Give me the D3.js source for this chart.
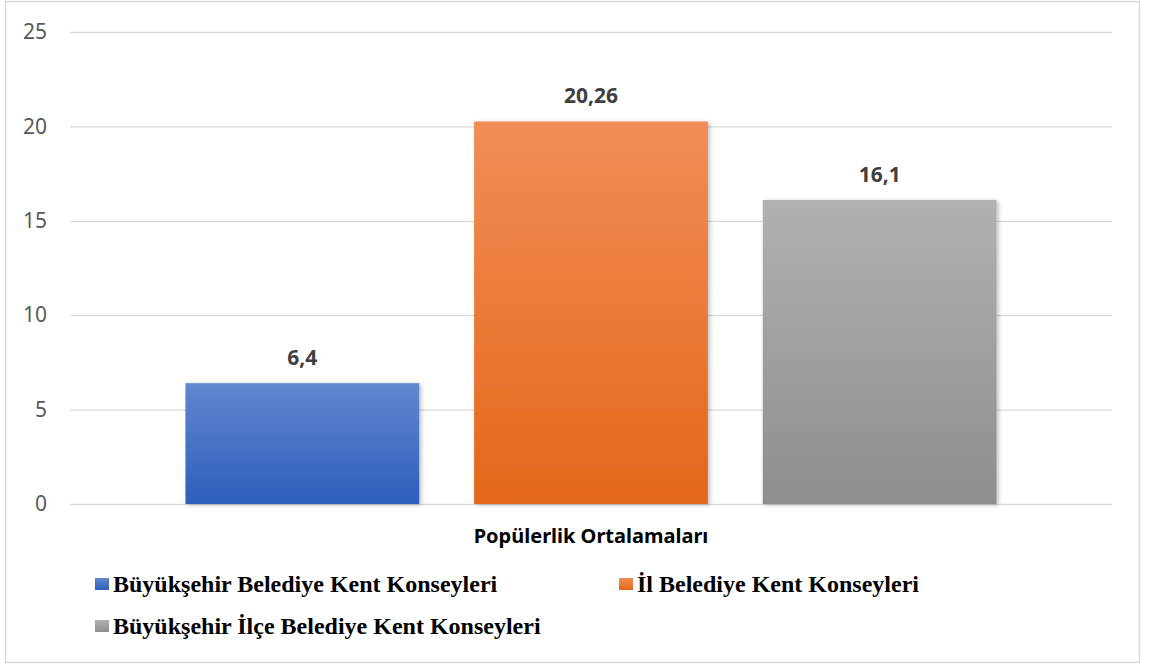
<!DOCTYPE html>
<html>
<head>
<meta charset="utf-8">
<script src="https://cdn.jsdelivr.net/npm/d3@7"></script>
<style>
  body { margin: 0; background: #fff; }
</style>
</head>
<body>
<div id="chart"></div>
<script>
// Chart data
var category = 'Popülerlik Ortalamaları';
var series = ['Büyükşehir Belediye Kent Konseyleri', 'İl Belediye Kent Konseyleri', 'Büyükşehir İlçe Belediye Kent Konseyleri'];
var values = [6.4, 20.26, 16.1];
var valueLabels = ['6,4', '20,26', '16,1'];
var yTicks = [0, 5, 10, 15, 20, 25];

// Gradient colors (top, bottom) per series
var colorTop = ['#6187d0', '#f18d57', '#b1b1b1'];
var colorBottom = ['#2d5ebb', '#e4671a', '#8e8e8e'];

var fullWidth = 1150;
var fullHeight = 666;
var plot = { left: 70, right: 1112, top: 32, bottom: 504 };

var svg = d3.select('#chart').append('svg')
    .attr('width', fullWidth)
    .attr('height', fullHeight);

var defs = svg.append('defs');

series.forEach(function (s, i) {
    var g = defs.append('linearGradient')
        .attr('id', 'grad' + i)
        .attr('x1', 0).attr('y1', 0)
        .attr('x2', 0).attr('y2', 1);
    g.append('stop').attr('offset', '0%').attr('stop-color', colorTop[i]);
    g.append('stop').attr('offset', '100%').attr('stop-color', colorBottom[i]);
});

var shadow = defs.append('filter')
    .attr('id', 'shadow')
    .attr('x', '-10%').attr('y', '-10%')
    .attr('width', '120%').attr('height', '120%');
shadow.append('feDropShadow')
    .attr('dx', 2).attr('dy', 1)
    .attr('stdDeviation', 2)
    .attr('flood-color', '#000')
    .attr('flood-opacity', 0.25);

// Outer frame
svg.append('rect')
    .attr('x', 5.5).attr('y', 1.5)
    .attr('width', 1134).attr('height', 661)
    .attr('fill', '#fff')
    .attr('stroke', '#d9d9d9')
    .attr('stroke-width', 1.5);

// Scales
var xScale = d3.scaleBand()
    .domain(series)
    .range([plot.left, plot.right])
    .paddingInner(0.19)
    .paddingOuter(0.4);

var yScale = d3.scaleLinear()
    .domain([0, 25])
    .range([plot.bottom, plot.top]);

// Gridlines + y axis labels
var yAxis = d3.axisLeft(yScale)
    .tickValues(yTicks)
    .tickSize(-(plot.right - plot.left))
    .tickPadding(23)
    .tickFormat(d3.format('d'));

var yAxisEle = svg.append('g')
    .attr('transform', 'translate(' + plot.left + ',0)')
    .call(yAxis);

yAxisEle.select('.domain').remove();
yAxisEle.selectAll('line')
    .attr('stroke', '#d9d9d9')
    .attr('stroke-width', 1.3);
yAxisEle.selectAll('text')
    .style('font-family', '"Noto Sans", sans-serif')
    .style('font-size', '21px')
    .style('fill', '#595959');

// Bars
svg.append('g').selectAll('rect.bar')
    .data(values).enter()
    .append('rect')
    .classed('bar', true)
    .attr('x', function (d, i) { return xScale(series[i]); })
    .attr('width', xScale.bandwidth())
    .attr('y', function (d) { return yScale(d); })
    .attr('height', function (d) { return yScale(0) - yScale(d); })
    .attr('fill', function (d, i) { return 'url(#grad' + i + ')'; })
    .attr('filter', 'url(#shadow)');

// Value labels
svg.append('g').selectAll('text')
    .data(values).enter()
    .append('text')
    .attr('x', function (d, i) { return xScale(series[i]) + xScale.bandwidth() / 2; })
    .attr('y', function (d) { return yScale(d) - 18; })
    .attr('text-anchor', 'middle')
    .style('font-family', '"Noto Sans", sans-serif')
    .style('font-size', '21px')
    .style('font-weight', 'bold')
    .style('fill', '#404040')
    .text(function (d, i) { return valueLabels[i]; });

// Category label
svg.append('text')
    .attr('x', (plot.left + plot.right) / 2)
    .attr('y', 543)
    .attr('text-anchor', 'middle')
    .style('font-family', '"Noto Sans", sans-serif')
    .style('font-size', '20px')
    .style('font-weight', 'bold')
    .style('fill', '#000')
    .text(category);

// Legend
var legendPos = [[95, 592], [619, 592], [95, 634]];
var legend = svg.append('g').attr('class', 'legend');

series.forEach(function (s, i) {
    legend.append('rect')
        .attr('x', legendPos[i][0])
        .attr('y', legendPos[i][1] - 14)
        .attr('width', 14)
        .attr('height', 12)
        .attr('fill', 'url(#grad' + i + ')');
    legend.append('text')
        .attr('x', legendPos[i][0] + 18)
        .attr('y', legendPos[i][1])
        .style('font-family', '"Liberation Serif", "Times New Roman", serif')
        .style('font-size', '24px')
        .style('font-weight', 'bold')
        .style('fill', '#000')
        .text(s);
});
</script>
</body>
</html>
